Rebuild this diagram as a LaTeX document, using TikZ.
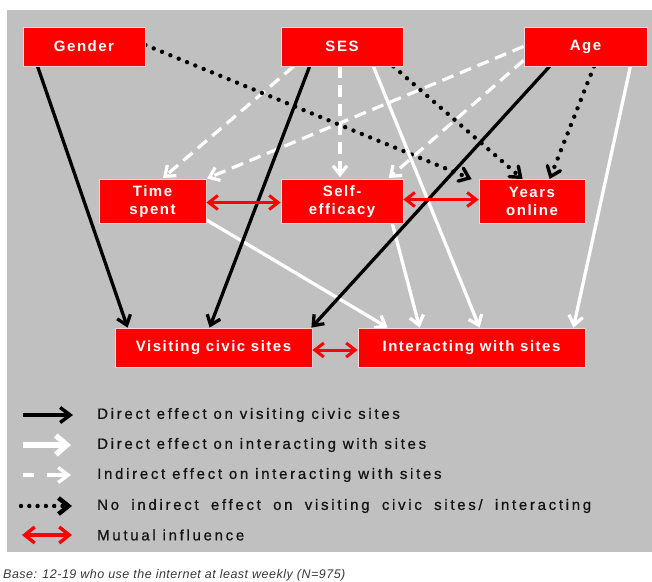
\documentclass[tikz,border=0pt]{standalone}
\usepackage{fontspec}
\setmainfont{Liberation Sans}
\newfontfamily\boxfont[LetterSpace=10]{Liberation Sans}
\newfontfamily\keyfont[LetterSpace=18,FakeBold=0.8]{Liberation Sans}
\newfontfamily\basefont[LetterSpace=4]{Liberation Sans}
\usetikzlibrary{arrows.meta}
\definecolor{panelgray}{HTML}{C0C0C0}
\definecolor{boxred}{HTML}{FF0000}
\definecolor{keyink}{HTML}{151515}
\pgfdeclarelayer{back}
\pgfsetlayers{back,main}

\begin{document}
\begin{tikzpicture}[x=1pt,y=-1pt,
  factor/.style={fill=boxred,draw=red!18,line width=0.8pt,text=white,align=center,inner sep=0pt,
    font=\boxfont\fontsize{15}{17.5}\selectfont\bfseries},
  barb/.style={-{Straight Barb[length=9pt,width=14pt]}},
  direct/.style={barb,black,line width=3.3pt},
  interact/.style={barb,white,line width=3.3pt},
  indirect/.style={white,line width=3.2pt,dash pattern=on 12pt off 7pt,
    -{Straight Barb[length=9pt,width=14pt,sep]}},
  noeffect/.style={black,line width=4.4pt,line cap=round,dash pattern=on 0pt off 9pt,
    -{Straight Barb[length=9pt,width=14pt,line width=3.4pt,line cap=round]}},
  mutual/.style={red,line width=3pt,{Straight Barb[length=9pt,width=14pt]}-{Straight Barb[length=9pt,width=14pt]}},
  keytext/.style={anchor=west,inner sep=0pt,text=keyink,font=\keyfont\fontsize{15}{17}\selectfont}]
\useasboundingbox (0,0) rectangle (652,581);
\begin{pgfonlayer}{back}
\fill[panelgray] (7,10) rectangle (652,552);
\end{pgfonlayer}

% factors, mediators and outcomes
\node[factor,minimum width=122pt,minimum height=39pt] (gender) at (84,46.5) {Gender};
\node[factor,minimum width=122pt,minimum height=39pt] (ses) at (342,46.5) {SES};
\node[factor,minimum width=123pt,minimum height=39pt] (age) at (585.5,46.5) {Age};
\node[factor,minimum width=107pt,minimum height=44pt] (time) at (152.5,201.5) {Time\\spent};
\node[factor,minimum width=122pt,minimum height=44pt] (self) at (342,201.5) {Self-\\efficacy};
\node[factor,minimum width=106pt,minimum height=44pt] (years) at (532,201.5) {Years\\online};
\node[factor,minimum width=197pt,minimum height=39pt] (visit) at (213.5,347.5) {Visiting civic sites};
\node[factor,minimum width=227pt,minimum height=39pt] (inter) at (471.5,347.5) {Interacting with sites};

\begin{pgfonlayer}{back}
% indirect paths via time spent and self-efficacy
\draw[indirect] ([xshift=13pt]ses.south west) -- ([xshift=63pt]time.north west);
\draw[indirect] (age.west) -- ([xshift=-1pt]time.north east);
\draw[indirect] ([xshift=-2pt]ses.south) -- ([xshift=-2pt]self.north);
\draw[indirect] ([yshift=6pt]age.south west) -- ([xshift=-16pt]self.north east);
% no indirect effect via years online
\draw[noeffect] ([yshift=1.5pt]gender.east) -- ([xshift=-7pt]years.north west);
\draw[noeffect] ([xshift=-10pt]ses.south east) -- ([xshift=44pt]years.north west);
\draw[noeffect] ([xshift=8.5pt]age.south) -- ([xshift=71pt]years.north west);
% direct effects on interacting
\draw[interact] ([yshift=4pt]time.south east) -- ([xshift=30pt]inter.north west);
\draw[interact] ([xshift=-11pt]self.south east) -- ([xshift=62pt]inter.north west);
\draw[interact] ([xshift=-30pt]ses.south east) -- ([xshift=122pt]inter.north west);
\draw[interact] ([xshift=-17pt]age.south east) -- ([xshift=-12pt]inter.north east);
% direct effects on visiting
\draw[direct] ([xshift=15pt]gender.south west) -- ([xshift=13pt]visit.north west);
\draw[direct] ([xshift=29pt]ses.south west) -- ([xshift=95pt]visit.north west);
\draw[direct] ([xshift=26pt]age.south west) -- ([xshift=-1pt]visit.north east);
\end{pgfonlayer}

% mutual influence
\draw[mutual] ([yshift=-1pt]time.east) -- ([yshift=-1pt]self.west);
\draw[mutual] ([yshift=2pt]self.east) -- ([yshift=2pt]years.west);
\draw[mutual] ([yshift=-2.5pt]visit.east) -- ([yshift=-2.5pt]inter.west);

% key
\coordinate (k1a) at (23,415);  \coordinate (k1b) at (73,415);
\coordinate (k2a) at (23,445);  \coordinate (k2b) at (71,445);
\coordinate (k3a) at (23,475);  \coordinate (k3b) at (71,475);
\coordinate (k4a) at (21,506);  \coordinate (k4b) at (72,506);
\coordinate (k5a) at (22,535);  \coordinate (k5b) at (72,535);
\draw[black,line width=3.4pt,-{Straight Barb[length=10pt,width=15pt]}] (k1a) -- (k1b);
\draw[white,line width=5.5pt,-{Straight Barb[length=11pt,width=19pt]}] (k2a) -- (k2b);
\draw[white,line width=3.4pt,dash pattern=on 11pt off 13pt on 40pt off 0pt,-{Straight Barb[length=10pt,width=15pt]}] (k3a) -- (k3b);
\draw[black,line width=4.4pt,line cap=round,dash pattern=on 0pt off 8.3pt,-{Straight Barb[length=10pt,width=16pt,line width=4.4pt]}] (k4a) -- (k4b);
\draw[red,line width=3.4pt,{Straight Barb[length=10pt,width=16pt]}-{Straight Barb[length=10pt,width=16pt]}] (k5a) -- (k5b);
\node[keytext] (k1) at (97,415) {Direct effect on visiting civic sites};
\node[keytext] (k2) at (97,445) {Direct effect on interacting with sites};
\node[keytext] (k3) at (97,475) {Indirect effect on interacting with sites};
\node[keytext] (k4) at (97,506) {\makebox[494pt][s]{No indirect effect on visiting civic sites/ interacting}};
\node[keytext] (k5) at (97,535) {Mutual influence};

\node[anchor=west,inner sep=0pt,text=keyink!85,font=\basefont\itshape\fontsize{12.5}{14}\selectfont] (base) at (3,575)
  {Base: 12-19 who use the internet at least weekly (N=975)};
\end{tikzpicture}
\end{document}
